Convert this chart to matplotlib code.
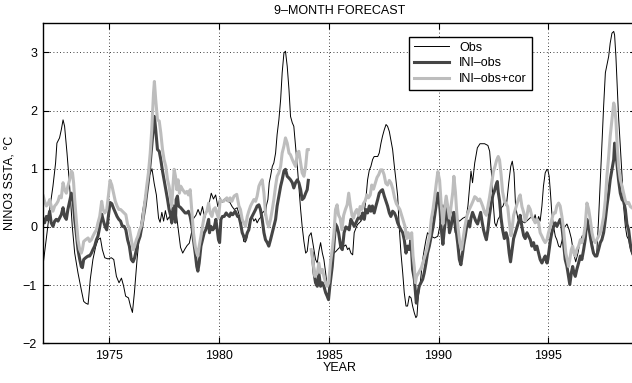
import numpy as np
import matplotlib
matplotlib.use('Agg')
import matplotlib.pyplot as plt

plt.rcParams['font.family'] = ['Liberation Sans', 'DejaVu Sans']

# observed NINO3 SST anomaly
obs_year = [1972.00, 1972.17, 1972.32, 1972.44, 1972.56, 1972.62, 1972.74, 1972.82, 1972.90, 1972.97,
            1973.08, 1973.20, 1973.32, 1973.43, 1973.58, 1973.73, 1973.84, 1973.93, 1974.04, 1974.14,
            1974.26, 1974.39, 1974.49, 1974.60, 1974.69, 1974.80, 1974.95, 1975.10, 1975.21, 1975.33,
            1975.45, 1975.56, 1975.66, 1975.75, 1975.88, 1975.97, 1976.06, 1976.15, 1976.27, 1976.39,
            1976.51, 1976.65, 1976.80, 1976.95, 1977.05, 1977.15, 1977.25, 1977.32, 1977.40, 1977.48,
            1977.56, 1977.65, 1977.75, 1977.85, 1977.95, 1978.05, 1978.15, 1978.25, 1978.35, 1978.45,
            1978.55, 1978.65, 1978.75, 1978.85, 1978.95, 1979.05, 1979.15, 1979.25, 1979.35, 1979.45,
            1979.55, 1979.65, 1979.75, 1979.85, 1979.95, 1980.05, 1980.15, 1980.25, 1980.35, 1980.50,
            1980.60, 1980.70, 1980.83, 1980.98, 1981.13, 1981.21, 1981.29, 1981.36, 1981.44, 1981.51,
            1981.59, 1981.67, 1981.74, 1981.82, 1981.89, 1981.97, 1982.05, 1982.12, 1982.17, 1982.23,
            1982.29, 1982.35, 1982.43, 1982.50, 1982.58, 1982.65, 1982.73, 1982.81, 1982.88, 1982.96,
            1983.03, 1983.11, 1983.19, 1983.26, 1983.34, 1983.41, 1983.49, 1983.57, 1983.64, 1983.72,
            1983.79, 1983.87, 1983.95, 1984.02, 1984.10, 1984.20, 1984.30, 1984.40, 1984.48, 1984.55,
            1984.63, 1984.71, 1984.78, 1984.86, 1984.93, 1985.00, 1985.08, 1985.24, 1985.33, 1985.40,
            1985.55, 1985.63, 1985.71, 1985.78, 1985.86, 1985.93, 1986.01, 1986.09, 1986.16, 1986.24,
            1986.31, 1986.39, 1986.47, 1986.54, 1986.62, 1986.69, 1986.77, 1986.85, 1986.92, 1987.00,
            1987.07, 1987.23, 1987.30, 1987.38, 1987.45, 1987.53, 1987.61, 1987.68, 1987.76, 1987.83,
            1987.91, 1987.99, 1988.06, 1988.14, 1988.21, 1988.29, 1988.37, 1988.44, 1988.52, 1988.59,
            1988.67, 1988.75, 1988.82, 1988.90, 1988.97, 1989.02, 1989.08, 1989.17, 1989.28, 1989.35,
            1989.43, 1989.50, 1989.66, 1989.82, 1989.97, 1990.05, 1990.13, 1990.20, 1990.28, 1990.35,
            1990.43, 1990.51, 1990.58, 1990.66, 1990.76, 1990.86, 1990.96, 1991.11, 1991.27, 1991.34,
            1991.42, 1991.48, 1991.55, 1991.65, 1991.77, 1991.89, 1992.10, 1992.25, 1992.33, 1992.41,
            1992.48, 1992.56, 1992.63, 1992.71, 1992.79, 1992.86, 1992.94, 1993.01, 1993.09, 1993.20,
            1993.29, 1993.36, 1993.44, 1993.51, 1993.62, 1993.77, 1993.93, 1994.10, 1994.25, 1994.33,
            1994.40, 1994.48, 1994.56, 1994.63, 1994.71, 1994.78, 1994.86, 1994.94, 1994.98, 1995.04,
            1995.10, 1995.16, 1995.24, 1995.32, 1995.39, 1995.47, 1995.55, 1995.65, 1995.75, 1995.85,
            1995.95, 1996.05, 1996.15, 1996.25, 1996.35, 1996.45, 1996.55, 1996.65, 1996.75, 1996.85,
            1996.95, 1997.05, 1997.12, 1997.20, 1997.29, 1997.37, 1997.44, 1997.52, 1997.60, 1997.75,
            1997.82, 1997.90, 1997.98, 1998.02, 1998.08, 1998.14, 1998.20, 1998.28, 1998.36, 1998.43,
            1998.51, 1998.58, 1998.66, 1998.74, 1998.84, 1999.00]
obs = [-0.62, -0.10, 0.38, 0.70, 1.10, 1.44, 1.53, 1.67, 1.84, 1.73,
       1.27, 0.70, 0.01, -0.45, -0.79, -1.08, -1.28, -1.31, -1.33, -0.90,
       -0.56, -0.33, -0.22, -0.19, -0.39, -0.53, -0.55, -0.53, -0.56, -0.85,
       -0.96, -0.88, -1.02, -1.19, -1.22, -1.36, -1.47, -1.13, -0.56, -0.10,
       0.24, 0.55, 0.85, 1.00, 0.75, 0.55, 0.15, 0.08, 0.25, 0.10,
       0.28, 0.12, 0.18, 0.05, 0.30, 0.25, -0.05, -0.35, -0.45, -0.38,
       -0.32, -0.28, -0.10, 0.15, 0.20, 0.30, 0.20, 0.35, 0.15, 0.30,
       0.40, 0.58, 0.48, 0.55, 0.35, 0.50, 0.42, 0.48, 0.45, 0.42,
       0.35, 0.30, 0.33, 0.13, -0.25, -0.26, -0.16, 0.01, 0.13, 0.18,
       0.10, 0.14, 0.07, 0.13, 0.16, 0.24, 0.27, 0.18, 0.38, 0.47,
       0.76, 0.87, 1.04, 1.10, 1.27, 1.59, 1.84, 2.19, 2.65, 2.99,
       3.02, 2.76, 2.36, 1.90, 1.79, 1.73, 1.39, 1.04, 0.70, 0.30,
       0.01, -0.25, -0.45, -0.42, -0.16, -0.10, -0.33, -0.56, -0.62, -0.42,
       -0.27, -0.45, -0.56, -0.79, -1.02, -0.95, -0.56, -0.45, -0.42, -0.39,
       -0.33, -0.29, -0.33, -0.31, -0.39, -0.36, -0.45, -0.48, -0.10, -0.02,
       0.04, 0.07, 0.10, 0.18, 0.24, 0.47, 0.81, 0.98, 1.04, 1.16,
       1.21, 1.21, 1.27, 1.44, 1.56, 1.67, 1.76, 1.73, 1.64, 1.50,
       1.33, 1.04, 0.81, 0.53, 0.01, -0.45, -0.79, -1.13, -1.36, -1.36,
       -1.19, -1.22, -1.36, -1.48, -1.56, -1.53, -1.19, -0.96, -0.56, -0.39,
       -0.22, -0.10, -0.16, -0.19, -0.16, 0.00, 0.24, 0.38, 0.27, 0.36,
       0.13, 0.18, 0.30, 0.18, -0.10, 0.13, 0.10, 0.15, 0.18, 0.36,
       0.70, 0.96, 0.76, 1.10, 1.36, 1.43, 1.43, 1.40, 1.30, 0.93,
       0.47, 0.07, 0.01, 0.13, 0.18, 0.33, 0.36, 0.44, 0.36, 0.76,
       1.04, 1.13, 0.93, 0.36, 0.13, 0.10, 0.07, 0.13, 0.18, 0.10,
       0.21, 0.07, 0.18, 0.10, 0.36, 0.70, 0.93, 0.99, 0.98, 0.87,
       0.58, 0.24, 0.01, -0.16, -0.22, -0.33, -0.35, -0.20, 0.00, 0.05,
       -0.05, -0.20, -0.45, -0.60, -0.45, -0.25, -0.15, -0.25, 0.00, 0.02,
       -0.15, -0.40, -0.50, -0.50, 0.13, 0.81, 1.39, 2.07, 2.65, 2.93,
       3.16, 3.33, 3.36, 3.30, 2.93, 2.42, 1.90, 1.39, 0.87, 0.36,
       0.01, -0.16, -0.22, -0.39, -0.50, -0.55]

# INI-obs forecast (gap in early 1984)
ini_year = [1972.00, 1972.06, 1972.14, 1972.21, 1972.29, 1972.36, 1972.44, 1972.52, 1972.59, 1972.67,
            1972.74, 1972.82, 1972.90, 1972.97, 1973.05, 1973.12, 1973.20, 1973.28, 1973.33, 1973.38,
            1973.43, 1973.50, 1973.58, 1973.66, 1973.73, 1973.78, 1973.84, 1973.93, 1974.04, 1974.11,
            1974.19, 1974.26, 1974.34, 1974.42, 1974.49, 1974.57, 1974.66, 1974.74, 1974.82, 1974.89,
            1974.97, 1975.04, 1975.12, 1975.20, 1975.28, 1975.36, 1975.44, 1975.52, 1975.60, 1975.68,
            1975.76, 1975.84, 1975.92, 1976.01, 1976.09, 1976.16, 1976.24, 1976.31, 1976.41, 1976.49,
            1976.56, 1976.64, 1976.71, 1976.79, 1976.87, 1976.94, 1977.02, 1977.06, 1977.12, 1977.20,
            1977.28, 1977.35, 1977.43, 1977.50, 1977.58, 1977.66, 1977.73, 1977.81, 1977.85, 1977.90,
            1977.93, 1977.98, 1978.02, 1978.05, 1978.11, 1978.16, 1978.26, 1978.39, 1978.46, 1978.54,
            1978.61, 1978.69, 1978.77, 1978.84, 1978.92, 1978.99, 1979.04, 1979.10, 1979.18, 1979.25,
            1979.33, 1979.40, 1979.45, 1979.53, 1979.57, 1979.63, 1979.72, 1979.78, 1979.86, 1979.94,
            1979.98, 1980.03, 1980.09, 1980.16, 1980.24, 1980.33, 1980.39, 1980.48, 1980.54, 1980.63,
            1980.74, 1980.85, 1980.91, 1980.98, 1981.06, 1981.13, 1981.21, 1981.29, 1981.36, 1981.44,
            1981.51, 1981.59, 1981.67, 1981.74, 1981.82, 1981.89, 1981.97, 1982.05, 1982.12, 1982.20,
            1982.27, 1982.35, 1982.43, 1982.50, 1982.58, 1982.65, 1982.73, 1982.81, 1982.88, 1982.96,
            1983.03, 1983.11, 1983.19, 1983.26, 1983.34, 1983.41, 1983.49, 1983.57, 1983.64, 1983.72,
            1983.79, 1983.87, 1983.95, 1984.02, 1984.07, 1984.15, 1984.25, 1984.33, 1984.40, 1984.48,
            1984.55, 1984.63, 1984.71, 1984.78, 1984.86, 1984.93, 1984.99, 1985.05, 1985.16, 1985.24,
            1985.31, 1985.38, 1985.45, 1985.55, 1985.62, 1985.70, 1985.78, 1985.86, 1985.93, 1986.01,
            1986.09, 1986.16, 1986.24, 1986.31, 1986.39, 1986.47, 1986.54, 1986.62, 1986.69, 1986.77,
            1986.85, 1986.92, 1986.99, 1987.07, 1987.15, 1987.23, 1987.30, 1987.38, 1987.45, 1987.53,
            1987.61, 1987.68, 1987.76, 1987.83, 1987.91, 1987.99, 1988.06, 1988.14, 1988.21, 1988.29,
            1988.37, 1988.44, 1988.52, 1988.59, 1988.67, 1988.75, 1988.82, 1988.90, 1988.94, 1988.99,
            1989.04, 1989.12, 1989.20, 1989.28, 1989.35, 1989.43, 1989.50, 1989.58, 1989.67, 1989.75,
            1989.82, 1989.90, 1989.97, 1990.02, 1990.07, 1990.13, 1990.20, 1990.25, 1990.32, 1990.38,
            1990.45, 1990.50, 1990.57, 1990.63, 1990.70, 1990.75, 1990.80, 1990.88, 1990.95, 1991.02,
            1991.08, 1991.15, 1991.22, 1991.30, 1991.35, 1991.42, 1991.48, 1991.55, 1991.62, 1991.70,
            1991.78, 1991.85, 1991.92, 1991.98, 1992.05, 1992.12, 1992.18, 1992.25, 1992.32, 1992.40,
            1992.48, 1992.55, 1992.62, 1992.68, 1992.72, 1992.78, 1992.85, 1992.92, 1993.00, 1993.08,
            1993.15, 1993.22, 1993.28, 1993.35, 1993.42, 1993.50, 1993.58, 1993.66, 1993.72, 1993.80,
            1993.88, 1993.95, 1994.03, 1994.10, 1994.18, 1994.25, 1994.33, 1994.40, 1994.48, 1994.56,
            1994.63, 1994.71, 1994.78, 1994.86, 1994.94, 1994.98, 1995.04, 1995.10, 1995.16, 1995.24,
            1995.32, 1995.39, 1995.47, 1995.54, 1995.59, 1995.65, 1995.71, 1995.77, 1995.85, 1995.92,
            1995.98, 1996.05, 1996.11, 1996.17, 1996.23, 1996.30, 1996.38, 1996.46, 1996.53, 1996.61,
            1996.68, 1996.76, 1996.84, 1996.91, 1996.99, 1997.06, 1997.14, 1997.21, 1997.29, 1997.37,
            1997.44, 1997.52, 1997.60, 1997.67, 1997.75, 1997.82, 1997.90, 1997.98, 1998.02, 1998.08,
            1998.14, 1998.20, 1998.28, 1998.36, 1998.43, 1998.51, 1998.58, 1998.66, 1998.74, 1998.84,
            1999.00]
ini = [0.13, 0.07, 0.18, 0.12, 0.27, 0.07, 0.01, 0.10, 0.13, 0.10,
       0.15, 0.21, 0.33, 0.18, 0.13, 0.30, 0.44, 0.58, 0.53, 0.36,
       0.13, -0.10, -0.39, -0.56, -0.68, -0.70, -0.56, -0.53, -0.50, -0.50,
       -0.45, -0.39, -0.33, -0.22, -0.16, 0.00, 0.22, 0.10, 0.00, -0.05,
       0.20, 0.42, 0.40, 0.32, 0.25, 0.18, 0.13, 0.10, 0.01, 0.01,
       -0.05, -0.22, -0.33, -0.56, -0.60, -0.53, -0.39, -0.27, -0.16, 0.01,
       0.18, 0.36, 0.58, 0.81, 1.10, 1.39, 1.73, 1.90, 1.67, 1.33,
       1.30, 1.16, 0.96, 0.81, 0.64, 0.47, 0.30, 0.18, 0.07, 0.30,
       0.36, 0.18, 0.08, 0.47, 0.53, 0.36, 0.33, 0.27, 0.24, 0.24,
       0.27, 0.18, 0.01, -0.22, -0.45, -0.68, -0.76, -0.62, -0.33, -0.22,
       -0.10, -0.05, 0.01, 0.13, -0.10, 0.01, -0.05, -0.02, 0.13, -0.10,
       -0.22, -0.27, 0.13, 0.18, 0.18, 0.24, 0.21, 0.18, 0.24, 0.21,
       0.27, 0.18, 0.18, 0.07, -0.10, -0.16, -0.22, -0.10, -0.05, 0.13,
       0.18, 0.24, 0.30, 0.36, 0.38, 0.30, 0.13, -0.10, -0.22, -0.27,
       -0.33, -0.22, -0.10, 0.01, 0.13, 0.36, 0.53, 0.70, 0.81, 0.96,
       0.99, 0.87, 0.84, 0.81, 0.76, 0.67, 0.76, 0.81, 0.76, 0.64,
       0.47, 0.50, 0.58, 0.64, 0.80, np.nan, -0.45, -0.79, -0.96, -1.02,
       -0.79, -1.02, -0.96, -1.02, -1.13, -1.19, -1.25, -1.02, -0.68, -0.30,
       0.05, 0.00, -0.10, -0.35, -0.39, -0.10, 0.00, -0.02, -0.05, 0.13,
       0.07, 0.01, 0.07, 0.13, 0.18, 0.13, 0.24, 0.13, 0.30, 0.24,
       0.36, 0.27, 0.36, 0.24, 0.36, 0.47, 0.58, 0.62, 0.64, 0.53,
       0.44, 0.36, 0.24, 0.18, 0.27, 0.24, 0.18, 0.07, 0.01, -0.05,
       -0.10, -0.22, -0.45, -0.33, -0.39, -0.22, -0.73, -0.90, -1.08, -1.31,
       -1.19, -1.02, -0.96, -0.90, -0.79, -0.62, -0.45, -0.33, -0.16, 0.00,
       0.18, 0.40, 0.58, 0.50, 0.30, -0.05, -0.30, -0.10, 0.13, 0.30,
       0.15, -0.10, 0.00, 0.15, 0.25, 0.20, -0.05, -0.30, -0.56, -0.65,
       -0.50, -0.30, -0.15, 0.05, 0.10, 0.00, 0.15, 0.25, 0.18, 0.10,
       0.05, 0.15, 0.25, 0.10, -0.05, -0.15, -0.22, -0.05, 0.20, 0.40,
       0.55, 0.62, 0.72, 0.78, 0.60, 0.45, 0.15, -0.05, -0.20, -0.10,
       -0.20, -0.45, -0.60, -0.40, -0.20, -0.10, 0.00, 0.10, 0.20, 0.00,
       -0.15, -0.20, -0.10, -0.16, -0.22, -0.33, -0.27, -0.39, -0.33, -0.45,
       -0.56, -0.62, -0.56, -0.50, -0.62, -0.56, -0.39, -0.22, -0.10, 0.01,
       0.07, 0.01, 0.07, 0.13, 0.10, -0.10, -0.33, -0.56, -0.68, -0.85,
       -0.99, -0.79, -0.68, -0.79, -0.85, -0.73, -0.62, -0.50, -0.56, -0.39,
       -0.22, 0.13, 0.01, -0.16, -0.33, -0.45, -0.50, -0.50, -0.39, -0.27,
       -0.22, -0.10, 0.13, 0.36, 0.58, 0.81, 0.99, 1.16, 1.44, 1.27,
       1.04, 0.81, 0.58, 0.47, 0.44, 0.30, 0.05, -0.05, -0.30, -0.45,
       -0.45]

# INI-obs+cor forecast (same gap in early 1984)
cor_year = [1972.00, 1972.06, 1972.14, 1972.21, 1972.29, 1972.36, 1972.44, 1972.52, 1972.59, 1972.67,
            1972.74, 1972.82, 1972.90, 1972.97, 1973.05, 1973.12, 1973.20, 1973.28, 1973.33, 1973.38,
            1973.43, 1973.50, 1973.58, 1973.66, 1973.73, 1973.78, 1973.84, 1973.93, 1974.04, 1974.11,
            1974.19, 1974.26, 1974.34, 1974.42, 1974.49, 1974.57, 1974.66, 1974.72, 1974.80, 1974.89,
            1974.97, 1975.04, 1975.12, 1975.20, 1975.28, 1975.36, 1975.44, 1975.52, 1975.60, 1975.68,
            1975.76, 1975.84, 1975.92, 1976.01, 1976.09, 1976.16, 1976.24, 1976.31, 1976.39, 1976.46,
            1976.53, 1976.56, 1976.64, 1976.71, 1976.79, 1976.87, 1976.94, 1977.02, 1977.06, 1977.12,
            1977.20, 1977.28, 1977.35, 1977.43, 1977.50, 1977.58, 1977.66, 1977.73, 1977.81, 1977.85,
            1977.90, 1977.96, 1978.02, 1978.08, 1978.14, 1978.20, 1978.26, 1978.35, 1978.46, 1978.54,
            1978.61, 1978.69, 1978.77, 1978.84, 1978.92, 1978.99, 1979.04, 1979.10, 1979.18, 1979.25,
            1979.33, 1979.40, 1979.45, 1979.53, 1979.60, 1979.68, 1979.75, 1979.83, 1979.90, 1979.98,
            1980.06, 1980.13, 1980.21, 1980.28, 1980.36, 1980.44, 1980.51, 1980.59, 1980.69, 1980.81,
            1980.91, 1980.98, 1981.06, 1981.13, 1981.21, 1981.29, 1981.36, 1981.44, 1981.51, 1981.59,
            1981.67, 1981.74, 1981.82, 1981.89, 1981.97, 1982.05, 1982.12, 1982.20, 1982.27, 1982.35,
            1982.43, 1982.50, 1982.58, 1982.65, 1982.73, 1982.81, 1982.88, 1982.96, 1983.03, 1983.11,
            1983.19, 1983.26, 1983.34, 1983.41, 1983.49, 1983.57, 1983.64, 1983.72, 1983.79, 1983.87,
            1983.95, 1984.02, 1984.07, 1984.15, 1984.20, 1984.29, 1984.37, 1984.48, 1984.55, 1984.63,
            1984.71, 1984.78, 1984.86, 1984.93, 1985.00, 1985.08, 1985.16, 1985.24, 1985.31, 1985.38,
            1985.45, 1985.52, 1985.60, 1985.68, 1985.76, 1985.84, 1985.91, 1985.98, 1986.06, 1986.13,
            1986.20, 1986.28, 1986.36, 1986.43, 1986.51, 1986.58, 1986.66, 1986.74, 1986.81, 1986.89,
            1986.96, 1987.04, 1987.12, 1987.20, 1987.28, 1987.36, 1987.44, 1987.52, 1987.60, 1987.68,
            1987.76, 1987.84, 1987.92, 1988.00, 1988.08, 1988.16, 1988.24, 1988.32, 1988.40, 1988.48,
            1988.55, 1988.62, 1988.70, 1988.78, 1988.84, 1988.90, 1988.95, 1989.00, 1989.08, 1989.15,
            1989.22, 1989.30, 1989.38, 1989.46, 1989.54, 1989.60, 1989.67, 1989.75, 1989.82, 1989.90,
            1989.97, 1990.05, 1990.13, 1990.20, 1990.27, 1990.35, 1990.42, 1990.50, 1990.57, 1990.65,
            1990.70, 1990.77, 1990.83, 1990.90, 1990.97, 1991.05, 1991.12, 1991.20, 1991.30, 1991.40,
            1991.50, 1991.58, 1991.65, 1991.72, 1991.80, 1991.88, 1991.95, 1992.02, 1992.10, 1992.18,
            1992.25, 1992.32, 1992.42, 1992.50, 1992.58, 1992.65, 1992.72, 1992.78, 1992.85, 1992.92,
            1993.00, 1993.08, 1993.15, 1993.22, 1993.30, 1993.36, 1993.42, 1993.50, 1993.58, 1993.66,
            1993.72, 1993.80, 1993.88, 1993.95, 1994.03, 1994.10, 1994.18, 1994.25, 1994.33, 1994.40,
            1994.48, 1994.56, 1994.63, 1994.71, 1994.78, 1994.86, 1994.94, 1995.01, 1995.09, 1995.16,
            1995.24, 1995.32, 1995.39, 1995.47, 1995.54, 1995.62, 1995.68, 1995.74, 1995.80, 1995.86,
            1995.92, 1995.98, 1996.05, 1996.11, 1996.17, 1996.23, 1996.30, 1996.38, 1996.46, 1996.53,
            1996.61, 1996.68, 1996.76, 1996.84, 1996.91, 1996.99, 1997.06, 1997.14, 1997.21, 1997.29,
            1997.37, 1997.44, 1997.52, 1997.60, 1997.67, 1997.75, 1997.82, 1997.90, 1997.98, 1998.02,
            1998.08, 1998.14, 1998.20, 1998.28, 1998.36, 1998.43, 1998.51, 1998.58, 1998.66, 1998.74,
            1998.84, 1999.00]
cor = [0.53, 0.44, 0.36, 0.39, 0.47, 0.36, 0.27, 0.36, 0.39, 0.44,
       0.53, 0.50, 0.76, 0.64, 0.58, 0.70, 0.81, 0.96, 0.93, 0.76,
       0.47, 0.13, -0.22, -0.39, -0.45, -0.39, -0.25, -0.22, -0.19, -0.25,
       -0.22, -0.16, -0.10, -0.05, 0.07, 0.18, 0.44, 0.30, 0.24, 0.30,
       0.55, 0.80, 0.72, 0.58, 0.44, 0.36, 0.30, 0.30, 0.27, 0.24,
       0.21, 0.04, -0.02, -0.22, -0.39, -0.33, -0.22, -0.16, -0.05, 0.01,
       0.13, 0.24, 0.47, 0.70, 0.93, 1.27, 1.67, 2.30, 2.50, 2.19,
       1.84, 1.82, 1.62, 1.33, 1.16, 1.04, 0.81, 0.70, 0.47, 0.36,
       0.67, 0.99, 0.87, 0.64, 0.81, 0.58, 0.70, 0.64, 0.58, 0.61,
       0.55, 0.64, 0.24, -0.10, -0.33, -0.45, -0.50, -0.33, -0.16, 0.01,
       0.18, 0.24, 0.27, 0.41, 0.24, 0.18, 0.30, 0.33, 0.24, 0.15,
       0.47, 0.44, 0.44, 0.47, 0.50, 0.44, 0.50, 0.44, 0.53, 0.56,
       0.36, 0.30, 0.13, 0.07, 0.01, 0.18, 0.27, 0.36, 0.41, 0.47,
       0.44, 0.53, 0.70, 0.76, 0.81, 0.58, 0.24, 0.07, 0.00, 0.13,
       0.30, 0.47, 0.70, 0.87, 0.93, 1.04, 1.27, 1.39, 1.53, 1.44,
       1.27, 1.24, 1.16, 1.10, 1.04, 1.27, 1.30, 1.10, 0.93, 0.87,
       1.04, 1.33, 1.33, np.nan, -0.39, -0.62, -0.85, -0.79, -0.62, -0.79,
       -0.73, -0.85, -0.96, -1.02, -0.96, -0.62, -0.39, -0.10, 0.30, 0.38,
       0.20, 0.15, -0.05, 0.20, 0.30, 0.38, 0.58, 0.38, 0.20, 0.15,
       0.25, 0.30, 0.20, 0.35, 0.30, 0.40, 0.45, 0.55, 0.50, 0.55,
       0.72, 0.65, 0.75, 0.85, 0.90, 0.98, 0.98, 0.90, 0.75, 0.72,
       0.80, 0.75, 0.65, 0.50, 0.40, 0.35, 0.30, 0.20, 0.10, 0.00,
       -0.20, -0.10, -0.20, -0.10, -0.50, -0.70, -0.96, -0.85, -0.80, -0.75,
       -0.70, -0.60, -0.50, -0.40, -0.25, -0.15, 0.13, 0.30, 0.50, 0.75,
       0.95, 0.80, 0.35, 0.05, 0.30, 0.53, 0.35, 0.15, 0.35, 0.60,
       0.87, 0.60, 0.25, -0.05, -0.27, -0.39, -0.20, 0.00, 0.20, 0.30,
       0.38, 0.45, 0.52, 0.50, 0.45, 0.48, 0.42, 0.35, 0.25, 0.20,
       0.35, 0.50, 0.75, 0.95, 1.05, 1.15, 1.21, 1.15, 0.90, 0.60,
       0.45, 0.40, 0.35, 0.10, -0.15, 0.00, 0.20, 0.30, 0.40, 0.50,
       0.55, 0.35, 0.25, 0.10, 0.20, 0.36, 0.30, 0.18, 0.13, 0.07,
       0.13, 0.07, -0.10, -0.16, -0.22, -0.27, -0.22, -0.10, 0.01, 0.13,
       0.24, 0.24, 0.36, 0.41, 0.36, 0.18, 0.01, -0.22, -0.45, -0.56,
       -0.68, -0.56, -0.39, -0.33, -0.45, -0.50, -0.39, -0.33, -0.22, -0.27,
       -0.16, 0.01, 0.41, 0.30, 0.13, -0.10, -0.22, -0.27, -0.22, -0.16,
       -0.10, 0.01, 0.18, 0.47, 0.87, 1.21, 1.56, 1.84, 2.13, 2.07,
       1.84, 1.38, 1.04, 0.81, 0.70, 0.58, 0.45, 0.40, 0.42, 0.35,
       0.32, 0.28]

fig = plt.figure(figsize=(6.32, 3.83), dpi=100)
# axes run past the right border of the figure, so the last years are cut off
ax = fig.add_axes([0.0685, 0.1037, 0.938, 0.8355])

ax.plot(obs_year, obs, color='k', linewidth=0.7, label='Obs')
ax.plot(ini_year, ini, color='#454545', linewidth=2.2, label='INI–obs')
ax.plot(cor_year, cor, color='#bdbdbd', linewidth=2.2, label='INI–obs+cor')

ax.set_xlim(1972, 1999)
ax.set_ylim(-2, 3.5)
ax.set_xticks([1975, 1980, 1985, 1990, 1995])
ax.set_yticks([-2, -1, 0, 1, 2, 3])
ax.set_yticklabels(['−2', '−1', '0', '1', '2', '3'])
ax.grid(True, color='k', linestyle=(0, (1, 3)), linewidth=0.6)
ax.tick_params(direction='in', length=4, width=0.8, labelsize=9, top=True, right=True, pad=4.5)
for sp in ax.spines.values():
    sp.set_linewidth(1.0)

ax.set_title('9–MONTH FORECAST', fontsize=9, pad=7)
ax.set_xlabel('YEAR', fontsize=9, labelpad=0.5)
ax.set_ylabel('NINO3 SSTA, °C', fontsize=9, labelpad=5)

leg = ax.legend(loc='upper left', bbox_to_anchor=(0.617, 0.958), borderaxespad=0,
                fontsize=9, fancybox=False, framealpha=1, edgecolor='k',
                handlelength=2.8, borderpad=0.4, labelspacing=0.3)
leg.get_frame().set_linewidth(1.0)

fig.savefig('out.png', dpi=100)
